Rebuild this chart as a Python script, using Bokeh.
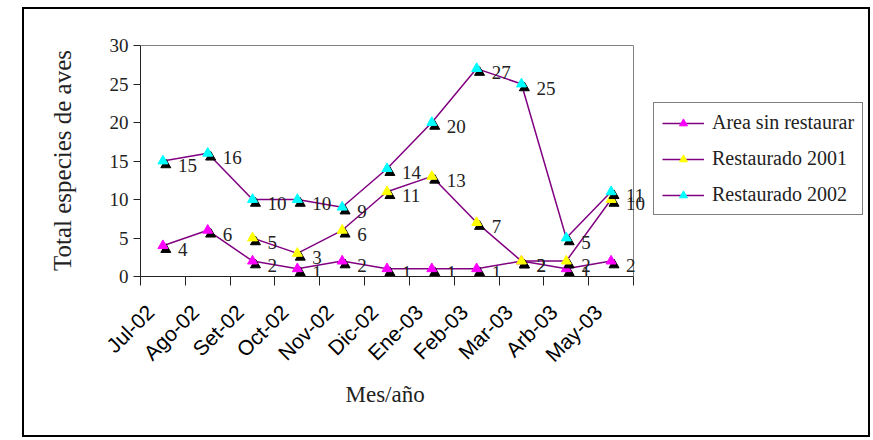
import math
from bokeh.plotting import figure
from bokeh.models import (Range1d, FixedTicker, CustomJSTickFormatter, Legend, LegendItem,
                          ColumnDataSource, LabelSet, InlineStyleSheet, Title)
from bokeh.embed import file_html
from bokeh.resources import INLINE

# ---- data ----
months = ["Jul-02", "Ago-02", "Set-02", "Oct-02", "Nov-02", "Dic-02",
          "Ene-03", "Feb-03", "Mar-03", "Arb-03", "May-03"]
area_sin = [4, 6, 2, 1, 2, 1, 1, 1, 2, 1, 2]
rest_2001 = [None, None, 5, 3, 6, 11, 13, 7, 2, 2, 10]
rest_2002 = [15, 16, 10, 10, 9, 14, 20, 27, 25, 5, 11]
series_names = ["Area sin restaurar", "Restaurado 2001", "Restaurado 2002"]
series_colors = ["#FF00FF", "#FFFF00", "#00FFFF"]
y_ticks = [0, 5, 10, 15, 20, 25, 30]
Y_MAX = 30
x_title = "Mes/año"
y_title = "Total especies de aves"

SERIF = "Liberation Serif"
SANS = "Liberation Sans"
LINE_COLOR = "#800080"
DARK = "#222222"

N = len(months)
# frame extends to the right so that the legend can sit inside it;
# the category axis occupies the left part (493 of 723 px)
X_END = N * 723.0 / 493.0

p = figure(width=873, height=440, output_backend="svg", toolbar_location=None,
           x_range=Range1d(0, X_END), y_range=Range1d(0, Y_MAX + 0.13),
           min_border_left=140, min_border_right=10, min_border_top=44, min_border_bottom=164)
p.background_fill_color = "white"
p.border_fill_color = "white"
p.outline_line_color = None
p.xgrid.grid_line_color = None
p.ygrid.grid_line_color = None

# X axis: labels near category centres, tick marks between categories
p.xaxis.bounds = (0, N)
p.xaxis.ticker = FixedTicker(ticks=[i + 0.22 for i in range(N)],
                             minor_ticks=list(range(N + 1)))
p.xaxis.formatter = CustomJSTickFormatter(args=dict(labels=months),
                                          code="return labels[Math.floor(tick)];")
p.xaxis.major_tick_out = 0
p.xaxis.major_tick_in = 0
p.xaxis.minor_tick_out = 9
p.xaxis.minor_tick_in = 0
p.xaxis.minor_tick_line_color = DARK
p.xaxis.major_label_orientation = math.pi / 4
p.xaxis.major_label_text_font = SANS
p.xaxis.major_label_text_font_size = "21px"
p.xaxis.major_label_text_color = "black"
p.xaxis.major_label_standoff = 23
p.xaxis.axis_line_color = DARK

# x-axis title centred under the category axis
xt = Title(text=x_title, align="left", offset=205, standoff=4,
           text_font=SERIF, text_font_size="23px", text_font_style="normal",
           text_color=DARK)
p.add_layout(xt, "below")

# Y axis
p.yaxis.bounds = (0, Y_MAX)
p.yaxis.ticker = FixedTicker(ticks=y_ticks)
p.yaxis.major_tick_out = 7
p.yaxis.major_tick_in = 0
p.yaxis.minor_tick_line_color = None
p.yaxis.major_tick_line_color = DARK
p.yaxis.major_label_text_font = SERIF
p.yaxis.major_label_text_font_size = "19px"
p.yaxis.major_label_text_color = DARK
p.yaxis.major_label_standoff = 5
p.yaxis.axis_label = y_title
p.yaxis.axis_label_text_font = SERIF
p.yaxis.axis_label_text_font_style = "normal"
p.yaxis.axis_label_text_font_size = "25px"
p.yaxis.axis_label_text_color = DARK
p.yaxis.axis_label_standoff = 31
p.yaxis.axis_line_color = DARK

# plot-area border (top and right, grey)
p.segment(x0=[0, N], y0=[Y_MAX, 0], x1=[N, N], y1=[Y_MAX, Y_MAX],
          line_color="#808080", line_width=1)

all_series = [area_sin, rest_2001, rest_2002]
legend_items = []
DX = 0.065   # shadow offset (data units, ~3px)
DY = -0.5    # shadow offset (data units, ~4px)
for name, vals, col in zip(series_names, all_series, series_colors):
    xs = [i + 0.5 for i, v in enumerate(vals) if v is not None]
    ys = [v for v in vals if v is not None]
    src = ColumnDataSource(dict(x=xs, y=ys, xs=[x + DX for x in xs], ys=[y + DY for y in ys],
                                lbl=[str(v) for v in ys]))
    ln = p.line("x", "y", source=src, line_color=LINE_COLOR, line_width=1.5)
    p.scatter("xs", "ys", source=src, marker="triangle", size=10,
              fill_color="black", line_color="black")
    mk = p.scatter("x", "y", source=src, marker="triangle", size=10,
                   fill_color=col, line_color=col)
    labels = LabelSet(x="x", y="y", text="lbl", source=src, x_offset=15, y_offset=-4,
                      text_font=SERIF, text_font_size="19px", text_color=DARK,
                      text_baseline="middle", text_align="left")
    p.add_layout(labels)
    legend_items.append(LegendItem(label=name, renderers=[ln, mk]))

legend = Legend(items=legend_items, location=(513, 61))
legend.label_text_font = SERIF
legend.label_text_font_size = "20px"
legend.label_text_color = DARK
legend.glyph_width = 42
legend.glyph_height = 20
legend.label_height = 20
legend.spacing = 13
legend.padding = 8
legend.margin = 0
legend.label_standoff = 8
legend.border_line_color = "black"
legend.border_line_width = 1
legend.background_fill_color = "white"
p.add_layout(legend, "center")

# outer chart border
p.stylesheets = [InlineStyleSheet(css=(
    ":host::after { content: ''; position: absolute; left: 22px; top: 7px; "
    "width: 848px; height: 430px; border: 2px solid black; box-sizing: border-box; "
    "pointer-events: none; }"))]

open("out.html", "w").write(file_html(p, INLINE))
